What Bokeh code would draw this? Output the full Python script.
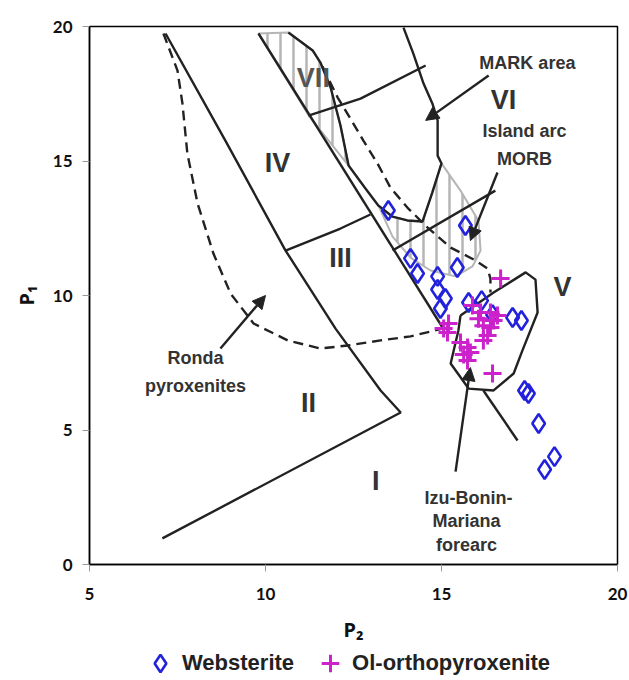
from bokeh.plotting import figure
from bokeh.layouts import column
from bokeh.models import Arrow, NormalHead, Legend, LegendItem, Range1d, FixedTicker
from bokeh.core.properties import value
from bokeh.embed import file_html
from bokeh.resources import INLINE

# ---- sample data (P2, P1) ----
websterite_p2 = [13.49, 15.68, 14.12, 14.32, 14.89, 15.45, 14.89, 15.11, 14.97, 15.77,
                 16.14, 16.45, 17.02, 17.27, 17.36, 17.47, 17.76, 18.21, 17.93]
websterite_p1 = [13.16, 12.60, 11.38, 10.82, 10.71, 11.04, 10.22, 9.89, 9.52, 9.74,
                 9.81, 9.29, 9.18, 9.07, 6.47, 6.36, 5.24, 4.01, 3.53]

olopx_p2 = [16.68, 16.45, 15.20, 15.17, 15.06, 15.54, 15.74, 15.63, 15.82, 15.74,
            15.88, 16.11, 16.39, 16.59, 16.19, 16.39, 16.31, 16.19, 16.05, 16.48]
olopx_p1 = [10.63, 7.10, 8.96, 8.62, 8.77, 8.25, 8.07, 7.81, 7.88, 7.58,
            9.63, 9.37, 9.37, 9.26, 8.88, 8.81, 8.51, 8.33, 9.14, 9.07]

# ---- field boundaries ----
line1_x = [7.16, 8.86, 10.57, 11.99, 13.27, 13.84, 7.07]
line1_y = [19.74, 15.76, 11.67, 8.77, 6.47, 5.65, 0.97]

line2_x = [9.80, 15.03]
line2_y = [19.74, 8.81]

line3_x = [10.57, 12.13, 12.98]
line3_y = [11.67, 12.49, 13.01]

line_vii_x = [11.22, 12.70, 14.55]
line_vii_y = [16.69, 17.32, 18.55]

line_arc_x = [13.61, 16.53]
line_arc_y = [11.67, 13.90]

mark_x = [10.65, 11.34, 11.56, 11.85, 12.13, 12.36, 12.84, 13.21, 13.61, 14.03, 14.46,
          14.74, 15.00, 14.89, 14.89, 14.74, 14.49, 14.20, 13.92]
mark_y = [19.78, 19.11, 18.66, 17.73, 16.32, 14.83, 13.98, 13.34, 12.93, 12.79, 12.75,
          13.83, 14.91, 15.20, 16.51, 17.14, 17.88, 18.99, 19.96]

ronda_x = [7.10, 7.50, 7.64, 7.78, 8.07, 8.52, 9.01, 9.66, 10.63, 11.56, 12.33, 13.27, 14.12, 15.03]
ronda_y = [19.74, 18.36, 17.14, 15.28, 13.42, 11.56, 10.07, 8.96, 8.33, 8.03, 8.14, 8.33, 8.48, 8.77]

dash2_x = [11.62, 12.05, 12.41, 12.78, 13.18, 13.55, 14.03, 14.60, 15.26, 15.97, 16.31, 16.39, 16.39]
dash2_y = [18.51, 17.36, 16.58, 15.76, 14.91, 14.01, 13.27, 12.53, 11.78, 11.30, 11.00, 10.63, 10.11]

ibm_x = [15.54, 16.48, 17.39, 17.67, 17.73, 17.30, 17.05, 16.48, 15.77, 15.26, 15.48, 15.54]
ibm_y = [9.26, 10.11, 10.86, 10.59, 9.37, 7.96, 7.10, 6.47, 6.54, 7.47, 8.70, 9.26]

v_line_x = [16.19, 17.16]
v_line_y = [6.47, 4.61]

hatch_vii_x = [9.80, 10.65, 11.34, 11.56, 11.85, 12.13, 12.36, 11.25]
hatch_vii_y = [19.74, 19.78, 19.11, 18.66, 17.73, 16.32, 14.83, 16.65]

hatch_arc_x = [13.21, 13.61, 14.03, 14.46, 14.74, 15.00, 15.54, 16.05, 16.11, 15.88,
               15.40, 14.69, 14.12, 13.61]
hatch_arc_y = [13.34, 12.93, 12.79, 12.75, 13.83, 14.91, 13.90, 12.78, 11.67, 11.08,
               10.71, 10.93, 11.41, 12.19]

# arrows: tail x, tail y, head x, head y
arrows = [
    (16.34, 18.18, 14.55, 16.51),   # MARK area
    (16.59, 14.57, 15.82, 12.04),   # Island arc MORB
    (15.40, 3.45, 15.82, 7.32),     # Izu-Bonin-Mariana forearc
    (8.72, 8.03, 10.00, 10.00),     # Ronda pyroxenites
]

roman_labels = ["VII", "VI", "IV", "III", "II", "I", "V"]
roman_x = [11.36, 16.76, 10.34, 12.13, 11.22, 13.13, 18.44]
roman_y = [18.07, 17.25, 14.91, 11.38, 5.99, 3.12, 10.30]

field_labels = ["MARK area", "Island arc", "MORB", "Ronda", "pyroxenites",
                "Izu-Bonin-", "Mariana", "forearc"]
field_x = [17.44, 17.36, 17.36, 8.01, 8.01, 15.77, 15.71, 15.71]
field_y = [18.66, 16.10, 15.09, 7.66, 6.62, 2.49, 1.60, 0.71]

x_ticks = [5, 10, 15, 20]
y_ticks = [0, 5, 10, 15, 20]
series_names = ["Websterite", "Ol-orthopyroxenite"]

WEB_COLOR = "#2222dd"
OL_COLOR = "#cc22cc"

# ---- main figure ----
p = figure(width=629, height=645, output_backend="svg", toolbar_location=None,
           x_range=Range1d(5, 20), y_range=Range1d(0, 20),
           min_border_left=89, min_border_right=12, min_border_top=26, min_border_bottom=81)
p.grid.visible = False
p.outline_line_color = "black"
p.outline_line_width = 1.5
p.background_fill_color = "white"
p.border_fill_color = "white"

for ax in (p.xaxis[0], p.yaxis[0]):
    ax.major_label_text_font = "Lato"
    ax.major_label_text_font_style = "bold"
    ax.major_label_text_font_size = "17px"
    ax.major_label_text_color = "#111111"
    ax.axis_label_text_font = "Noto Sans"
    ax.axis_label_text_font_style = "bold"
    ax.axis_label_text_font_size = "20px"
    ax.axis_label_text_color = "#111111"
    ax.major_tick_in = 0
    ax.major_tick_out = 7
    ax.major_tick_line_color = "#999999"
    ax.minor_tick_line_color = None
    ax.axis_line_color = "black"
    ax.axis_line_width = 1.5
    ax.major_label_standoff = 10

p.xaxis.major_label_standoff = 16
p.xaxis.axis_label_standoff = 13
p.yaxis.axis_label_standoff = 10
p.xaxis.ticker = FixedTicker(ticks=x_ticks)
p.yaxis.ticker = FixedTicker(ticks=y_ticks)
p.xaxis.axis_label = "P\u2082"
p.yaxis.axis_label = "P\u2081"

# hatched areas
for hx, hy in ((hatch_vii_x, hatch_vii_y), (hatch_arc_x, hatch_arc_y)):
    p.patch(hx, hy, fill_color=None, line_color="#b5b5b5", line_width=2,
            hatch_pattern="vertical_line", hatch_color="#b5b5b5", hatch_scale=13, hatch_weight=2.5)

lc = "#222222"
lw = 2.4
for lx, ly in ((line1_x, line1_y), (line2_x, line2_y), (line3_x, line3_y),
               (line_vii_x, line_vii_y), (line_arc_x, line_arc_y), (mark_x, mark_y),
               (ibm_x, ibm_y), (v_line_x, v_line_y)):
    p.line(lx, ly, line_color=lc, line_width=lw)

p.line(ronda_x, ronda_y, line_color=lc, line_width=lw, line_dash="10 6")
p.line(dash2_x, dash2_y, line_color=lc, line_width=lw, line_dash="10 6")

for xs, ys, xe, ye in arrows:
    p.add_layout(Arrow(end=NormalHead(size=13, fill_color=lc, line_color=lc),
                       x_start=xs, y_start=ys, x_end=xe, y_end=ye,
                       line_color=lc, line_width=2.4))

p.text(roman_x[:1], roman_y[:1], text=roman_labels[:1], text_font=value("Liberation Sans"),
       text_font_style="bold", text_font_size="27px", text_color="#555555",
       text_align="center", text_baseline="middle")
p.text(roman_x[1:], roman_y[1:], text=roman_labels[1:], text_font=value("Liberation Sans"),
       text_font_style="bold", text_font_size="27px", text_color="#333333",
       text_align="center", text_baseline="middle")
p.text(field_x, field_y, text=field_labels, text_font=value("Liberation Sans"),
       text_font_style="bold", text_font_size="18px", text_color="#333333",
       text_align="center", text_baseline="middle")

p.scatter(websterite_p2, websterite_p1, marker="diamond", size=19,
          fill_color=None, line_color=WEB_COLOR, line_width=2.6)
p.scatter(olopx_p2, olopx_p1, marker="cross", size=18,
          line_color=OL_COLOR, line_width=3)

# ---- legend strip below the chart ----
lg = figure(width=629, height=35, output_backend="svg", toolbar_location=None,
            x_range=Range1d(0, 1), y_range=Range1d(0, 1), min_border=0,
            x_axis_location=None, y_axis_location=None)
lg.grid.visible = False
lg.outline_line_color = None
lg.border_fill_color = "white"
r_web = lg.scatter([5], [5], marker="diamond", size=19,
                   fill_color=None, line_color=WEB_COLOR, line_width=2.6)
r_ol = lg.scatter([5], [5], marker="cross", size=18,
                  line_color=OL_COLOR, line_width=3)
legend = Legend(items=[LegendItem(label=series_names[0], renderers=[r_web]),
                       LegendItem(label=series_names[1], renderers=[r_ol])],
                orientation="horizontal", location=(49, -6),
                label_text_font="Liberation Sans", label_text_font_style="bold",
                label_text_font_size="22px", label_text_color="#222222",
                border_line_alpha=0, background_fill_alpha=0,
                glyph_width=44, glyph_height=46, label_standoff=0, spacing=14,
                label_height=24, margin=0, padding=0)
lg.add_layout(legend)

layout = column(p, lg, spacing=0)
open("out.html", "w").write(file_html(layout, INLINE))
